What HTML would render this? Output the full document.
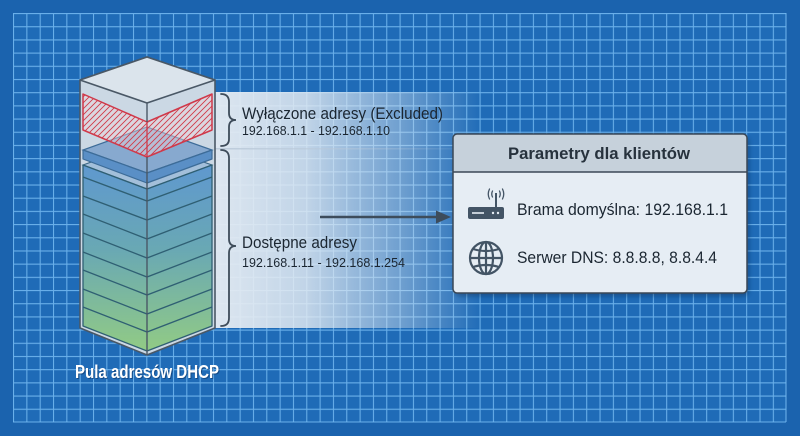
<!DOCTYPE html>
<html><head><meta charset="utf-8"><style>
html,body{margin:0;padding:0;background:#1b63ae;}
svg{display:block;}
text{font-family:"Liberation Sans",Arial,sans-serif;}
</style></head><body>
<svg width="800" height="436" viewBox="0 0 800 436" xmlns="http://www.w3.org/2000/svg">
<defs>
  <pattern id="grid" x="13" y="13" width="13.33" height="13.19" patternUnits="userSpaceOnUse">
    <rect width="13.33" height="13.19" fill="#1f6bb7"/>
    <path d="M0.5,0 V13.19 M0,0.5 H13.33" stroke="#72b8f0" stroke-width="1.1" opacity="0.9"/>
  </pattern>
  <linearGradient id="band" x1="0" y1="0" x2="1" y2="0">
    <stop offset="0" stop-color="#e4ebf2" stop-opacity="0.97"/>
    <stop offset="0.35" stop-color="#e4ebf2" stop-opacity="0.82"/>
    <stop offset="0.7" stop-color="#dde7f1" stop-opacity="0.42"/>
    <stop offset="1" stop-color="#dde7f1" stop-opacity="0"/>
  </linearGradient>
  <linearGradient id="sep" x1="0" y1="0" x2="1" y2="0">
    <stop offset="0" stop-color="#b9c8d8" stop-opacity="0.9"/>
    <stop offset="1" stop-color="#b9c8d8" stop-opacity="0"/>
  </linearGradient>
  <linearGradient id="stack" x1="0" y1="165" x2="0" y2="352" gradientUnits="userSpaceOnUse">
    <stop offset="0" stop-color="#5f98cf"/>
    <stop offset="0.45" stop-color="#69a8b4"/>
    <stop offset="1" stop-color="#92cb84"/>
  </linearGradient>
  <pattern id="hatch" width="6" height="6" patternUnits="userSpaceOnUse">
    <path d="M0,6 L6,0 M-1,1 L1,-1 M5,7 L7,5" stroke="#d13a48" stroke-width="0.9"/>
  </pattern>
  <filter id="sh" x="-10%" y="-10%" width="130%" height="130%">
    <feGaussianBlur stdDeviation="2.5"/>
  </filter>
</defs>

<!-- background -->
<rect width="800" height="436" fill="#1b63ae"/>
<rect x="13" y="13" width="773" height="409" fill="url(#grid)"/>
<path d="M786,13 V422 M13,422 H786" stroke="#72b8f0" stroke-width="1.1" opacity="0.9"/>

<!-- light bands -->
<rect x="212" y="92" width="270" height="57" rx="3" fill="url(#band)"/>
<rect x="212" y="149" width="270" height="179" rx="3" fill="url(#band)"/>
<rect x="212" y="148" width="270" height="1.5" fill="url(#sep)"/>

<!-- tower shell -->
<polygon points="147,57 215,80 215,328 147,355 80,328 80,80" fill="#cbd8e4" stroke="#4a5866" stroke-width="1.6" stroke-linejoin="round"/>
<polygon points="147,57 215,80 147,103 80,80" fill="#dbe4ec" stroke="#4a5866" stroke-width="1.6" stroke-linejoin="round"/>

<!-- stack -->
<polygon points="147,142 212,165 147,189 83,165" fill="#a3bfda" stroke="#3a6685" stroke-width="1.1"/>
<polygon points="83,165 147,189 212,165 212,326 147,351 83,326" fill="url(#stack)" stroke="#2f5f73" stroke-width="1.3" stroke-linejoin="round"/>
<g fill="none" stroke="#2f5f73" stroke-width="1.3">
  <path d="M83,177 L147,201 L212,177"/>
  <path d="M83,196 L147,220 L212,196"/>
  <path d="M83,214 L147,239 L212,214"/>
  <path d="M83,233 L147,258 L212,233"/>
  <path d="M83,252 L147,277 L212,252"/>
  <path d="M83,270 L147,295 L212,270"/>
  <path d="M83,289 L147,314 L212,289"/>
  <path d="M83,307 L147,332 L212,307"/>
</g>

<!-- blue slab -->
<polygon points="147,127 212,150 147,173 83,150" fill="#87a9cf" stroke="#3d6c98" stroke-width="1.2"/>
<polygon points="83,150 147,173 212,150 212,159 147,183 83,159" fill="#5a8fc6" stroke="#3d6c98" stroke-width="1.2" stroke-linejoin="round"/>

<!-- red excluded band -->
<polygon points="83,94 147,122 212,94 212,130 147,157 83,130" fill="#efd6dc" fill-opacity="0.45"/>
<polygon points="83,94 147,122 212,94 212,130 147,157 83,130" fill="url(#hatch)" stroke="#d0394a" stroke-width="1.5" stroke-linejoin="round"/>
<line x1="147" y1="122" x2="147" y2="157" stroke="#d0394a" stroke-width="1.3"/>

<!-- center edge -->
<line x1="147" y1="103" x2="147" y2="122" stroke="#4a5866" stroke-width="1.4"/>
<line x1="147" y1="157" x2="147" y2="355" stroke="#4a5866" stroke-width="1.4"/>

<!-- brackets -->
<g fill="none" stroke="#3e4c5a" stroke-width="1.8" stroke-linecap="round">
  <path d="M221,94 Q229,94 229,102 L229,113 Q229,120 236,120 Q229,120 229,127 L229,139 Q229,146 221,146"/>
  <path d="M221,150 Q229,150 229,158 L229,239 Q229,246 236,246 Q229,246 229,253 L229,318 Q229,326 221,326"/>
</g>

<!-- left texts -->
<text x="242" y="119" font-size="17" fill="#1b2631" textLength="201" lengthAdjust="spacingAndGlyphs">Wyłączone adresy (Excluded)</text>
<text x="242" y="135" font-size="13" fill="#1b2631" textLength="148" lengthAdjust="spacingAndGlyphs">192.168.1.1 - 192.168.1.10</text>
<text x="242" y="248" font-size="17" fill="#1b2631" textLength="115" lengthAdjust="spacingAndGlyphs">Dostępne adresy</text>
<text x="242" y="267" font-size="13" fill="#1b2631" textLength="163" lengthAdjust="spacingAndGlyphs">192.168.1.11 - 192.168.1.254</text>

<!-- arrow -->
<line x1="320" y1="217" x2="438" y2="217" stroke="#3d4c5b" stroke-width="2.4"/>
<polygon points="451,217 436,210.5 436,223.5" fill="#3d4c5b"/>

<!-- card -->
<rect x="455" y="137" width="294" height="159" rx="5" fill="#0b2a50" opacity="0.45" filter="url(#sh)"/>
<rect x="453" y="134" width="294" height="159" rx="4" fill="#e6edf4"/>
<path d="M457,134 H743 Q747,134 747,138 V172 H453 V138 Q453,134 457,134 Z" fill="#c6d1db"/>
<line x1="453" y1="172" x2="747" y2="172" stroke="#3b4856" stroke-width="1.4"/>
<rect x="453" y="134" width="294" height="159" rx="4" fill="none" stroke="#3b4856" stroke-width="1.5"/>
<text x="508" y="159" font-size="17" font-weight="bold" fill="#27323d" textLength="182" lengthAdjust="spacingAndGlyphs">Parametry dla klientów</text>

<!-- router icon -->
<g>
  <rect x="468" y="207" width="36" height="12" rx="2" fill="#435465"/>
  <line x1="472" y1="213" x2="484" y2="213" stroke="#e6edf4" stroke-width="1.6"/>
  <circle cx="493" cy="213" r="1.2" fill="#e6edf4"/>
  <circle cx="498" cy="213" r="1.2" fill="#e6edf4"/>
  <line x1="496" y1="207" x2="496" y2="193" stroke="#435465" stroke-width="2"/>
  <g fill="none" stroke="#435465" stroke-width="1.3" stroke-linecap="round">
    <path d="M492.5,191 Q491,194 492.5,197"/>
    <path d="M499.5,191 Q501,194 499.5,197"/>
    <path d="M489.5,189 Q487,194 489.5,199"/>
    <path d="M502.5,189 Q505,194 502.5,199"/>
  </g>
</g>
<text x="517" y="215" font-size="17" fill="#1b2631" textLength="211" lengthAdjust="spacingAndGlyphs">Brama domyślna: 192.168.1.1</text>

<!-- globe icon -->
<g fill="none" stroke="#435465" stroke-width="2.2">
  <circle cx="486" cy="258" r="16"/>
  <ellipse cx="486" cy="258" rx="7" ry="16"/>
  <line x1="486" y1="242" x2="486" y2="274"/>
  <line x1="470" y1="258" x2="502" y2="258"/>
  <path d="M473,249 Q486,253 499,249"/>
  <path d="M473,267 Q486,263 499,267"/>
</g>
<text x="517" y="263" font-size="17" fill="#1b2631" textLength="200" lengthAdjust="spacingAndGlyphs">Serwer DNS: 8.8.8.8, 8.8.4.4</text>

<!-- tower label -->
<text x="76" y="379" font-size="18" font-weight="bold" fill="#0d3566" opacity="0.6" textLength="144" lengthAdjust="spacingAndGlyphs">Pula adresów DHCP</text>
<text x="75" y="378" font-size="18" font-weight="bold" fill="#ffffff" textLength="144" lengthAdjust="spacingAndGlyphs">Pula adresów DHCP</text>
</svg>
</body></html>
